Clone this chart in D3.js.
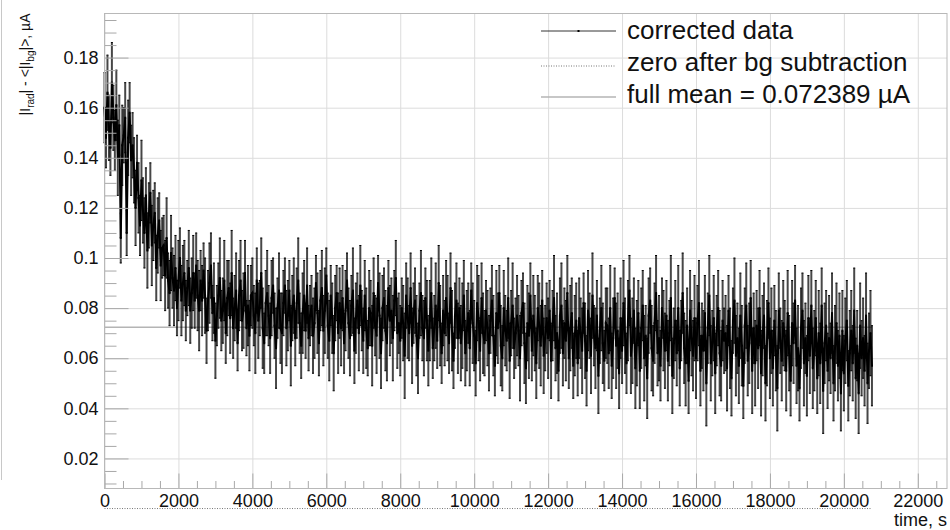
<!DOCTYPE html>
<html>
<head>
<meta charset="UTF-8">
<title>corrected data</title>
<script src="https://cdnjs.cloudflare.com/ajax/libs/d3/7.8.5/d3.min.js"></script>
<style>
body {
  margin: 0;
  background: #fff;
}
svg {
  display: block;
  font-family: "Liberation Sans", Arial, Helvetica, sans-serif;
}
.grid line {
  stroke: #dcdcdc;
  stroke-width: 1;
}
.grid path, .axis path {
  display: none;
}
.axis line {
  stroke: #a8a8a8;
}
.axis text {
  font-size: 18px;
  fill: #111;
  font-family: "Liberation Sans", Arial, Helvetica, sans-serif;
}
.frame {
  fill: none;
  stroke: #b8b8b8;
  stroke-width: 1;
}
.errbar {
  stroke: #000;
  stroke-opacity: 0.72;
  stroke-width: 2;
}
.cap {
  stroke: #000;
  stroke-width: 1;
}
.curve {
  fill: none;
  stroke: #000;
  stroke-width: 2;
}
.legend text {
  font-size: 26px;
  fill: #111;
}
</style>
</head>
<body>
<svg width="950" height="530"></svg>
<script>
// seconds between samples
var sampleStep = 40;

// corrected current, nA (one row = 20 samples = 800 s)
var current = [
  160,148,166,152,144,170,156,147,161,140,153,108,145,149,156,110,148,158,139,145,
  135,120,138,124,113,131,119,110,125,103,117,126,105,113,118,96,109,115,97,104,
  105,93,108,91,86,102,92,87,96,80,91,100,83,90,94,79,88,96,79,86,
  94,83,97,85,79,91,83,95,85,71,83,90,97,78,84,67,77,85,92,75,
  79,91,70,84,88,76,94,72,80,87,66,85,91,75,79,94,72,81,69,85,
  86,77,70,91,75,80,94,72,66,82,86,77,68,84,89,73,64,80,87,72,
  70,82,89,72,77,87,65,80,85,68,82,91,74,65,78,85,71,89,68,77,
  81,69,74,90,78,66,83,88,71,79,93,73,67,85,76,62,80,86,70,82,
  72,84,66,79,91,74,68,81,87,63,76,83,70,89,75,67,85,72,64,80,
  78,65,86,73,69,90,77,62,80,84,71,66,88,75,79,68,83,92,70,74,
  67,80,74,61,85,76,70,88,65,78,83,69,60,79,86,72,68,84,75,63,
  75,86,64,72,81,67,90,73,62,79,70,84,76,66,88,71,59,77,83,68,
  80,66,73,85,62,71,78,64,87,74,69,58,82,76,63,84,70,66,79,72,
  62,75,83,69,57,78,72,86,65,60,80,71,67,84,59,74,81,64,70,77,
  71,60,78,82,66,56,74,69,85,63,77,70,58,80,73,65,83,61,68,76,
  68,79,59,73,84,64,70,55,77,81,62,74,67,86,60,72,78,57,69,75,
  58,76,70,63,82,67,55,79,73,61,85,69,64,77,53,71,80,66,59,74,
  73,62,80,57,68,84,65,71,54,76,63,82,69,58,75,87,61,67,79,56,
  66,78,55,72,81,60,69,52,77,83,64,59,74,86,62,68,57,80,71,63,
  77,59,70,84,53,66,75,62,80,56,71,86,64,58,73,51,79,68,61,76,
  60,74,82,55,69,63,78,50,72,85,58,66,76,54,71,80,62,57,75,67,
  70,56,79,64,52,75,83,61,68,57,77,65,49,73,81,59,66,84,55,72,
  58,73,64,80,54,69,77,50,66,82,60,71,56,75,63,48,79,67,59,74,
  69,55,78,62,51,74,66,83,57,64,48,72,79,58,68,53,76,61,81,56,
  63,76,52,70,58,81,47,66,73,55,68,60,78,50,64,74,57,69,46,71,
  54,67,75,49,62,71,58,79,52,65,46,73,60,68,55,77,50,63,70,57
];

// error on each sample, nA
var currentErr = [
  14,12,15,13,11,16,13,12,14,15,12,10,16,11,14,9,15,12,14,13,
  13,15,11,14,12,16,13,14,11,15,13,12,16,14,12,13,15,11,14,12,
  12,14,16,11,13,15,12,14,13,11,16,12,14,15,13,12,11,15,13,14,
  15,11,13,14,16,12,14,11,15,13,12,16,13,11,14,15,12,13,16,12,
  13,16,12,15,11,14,17,12,13,15,11,14,16,12,15,13,11,16,14,12,
  14,12,16,13,15,11,14,16,12,13,17,12,14,15,11,13,16,12,15,14,
  16,13,11,15,14,12,16,13,15,11,14,17,12,13,16,14,11,15,13,12,
  12,15,14,11,16,13,12,15,14,17,11,13,16,12,14,15,13,11,16,14,
  15,13,12,16,11,14,15,12,17,13,14,11,15,16,12,13,14,16,11,15,
  13,16,14,12,15,11,17,14,13,12,16,15,11,14,13,17,12,15,14,12,
  14,12,15,17,13,16,11,14,15,12,13,16,14,11,17,13,15,12,16,14,
  16,14,12,13,17,11,15,16,12,14,13,15,17,12,14,16,11,13,15,14,
  12,15,17,14,13,16,12,15,11,16,14,13,15,17,12,14,16,13,12,15,
  15,13,14,16,12,17,14,11,16,13,15,14,12,16,15,13,17,12,14,16,
  14,17,13,12,16,14,15,17,13,12,16,15,14,13,17,16,12,15,13,14,
  16,12,15,14,17,13,16,12,15,17,13,14,16,15,12,17,14,13,16,15,
  13,16,14,17,12,15,14,16,13,15,17,12,16,14,15,13,17,16,12,14,
  15,14,17,13,16,12,17,15,14,16,13,17,15,12,16,14,15,17,13,16,
  17,13,15,16,14,17,12,16,15,13,17,14,16,15,13,17,14,12,16,15,
  14,16,13,17,15,14,16,13,17,15,12,16,14,17,15,13,16,15,14,17,
  16,15,17,14,13,16,15,17,14,16,15,13,17,16,14,15,17,14,16,13,
  15,17,14,16,15,13,17,16,14,15,17,16,13,15,17,14,16,15,17,14,
  17,14,16,15,17,16,13,15,17,14,16,17,15,14,16,17,15,13,16,17,
  14,16,17,15,14,17,16,14,15,17,13,16,15,17,14,16,17,15,14,16,
  16,15,14,17,16,15,17,16,14,15,17,14,16,15,17,16,14,17,15,16,
  15,17,16,14,17,16,15,17,16,14,16,17,15,16,14,17,16,15,17,16
];

var fullMean = 0.072389;
var xTicks = [0, 2000, 4000, 6000, 8000, 10000, 12000, 14000, 16000, 18000, 20000, 22000];
var yTicks = [0.02, 0.04, 0.06, 0.08, 0.1, 0.12, 0.14, 0.16, 0.18];
var legendLabels = ["corrected data", "zero after bg subtraction", "full mean = 0.072389 \u00b5A"];

function drawChart(){
  var svg = d3.select("svg"),
    fLeft = 104.5, fRight = 947, fTop = 13.5, fBottom = 488.5,
    xscale = d3.scaleLinear().domain([0, 22790]).range([fLeft, fRight]),
    yscale = d3.scaleLinear().domain([0.008, 0.1976]).range([fBottom, fTop]);

  var pts = current.map(function(v, i){
    return {t: i*sampleStep, v: v/1000, e: currentErr[i]/1000};
  });
  var tEnd = pts[pts.length-1].t;

  // cropped edge of the figure
  svg.append("line")
    .attr("x1", 1.5).attr("x2", 1.5).attr("y1", 0).attr("y2", 480)
    .attr("stroke", "#c8c8c8");

  // grid
  svg.append("g")
    .attr("class", "grid")
    .attr("transform", "translate(0,"+fBottom+")")
    .call(d3.axisBottom(xscale).tickValues(xTicks).tickSize(-(fBottom-fTop)).tickFormat(""));
  svg.append("g")
    .attr("class", "grid")
    .attr("transform", "translate("+fLeft+",0)")
    .call(d3.axisLeft(yscale).tickValues(yTicks).tickSize(-(fRight-fLeft)).tickFormat(""));

  // full mean and zero lines
  svg.append("line")
    .attr("x1", xscale(0)).attr("x2", xscale(tEnd))
    .attr("y1", yscale(fullMean)).attr("y2", yscale(fullMean))
    .attr("stroke", "#b4b4b4").attr("stroke-width", 1.6);
  svg.append("line")
    .attr("x1", xscale(0)).attr("x2", xscale(tEnd))
    .attr("y1", yscale(0)).attr("y2", yscale(0))
    .attr("stroke", "#777").attr("stroke-width", 1)
    .attr("stroke-dasharray", "1,1.5");

  // data
  var data = svg.append("g");
  data.selectAll(".errbar").data(pts).join("line")
    .attr("class", "errbar")
    .attr("x1", function(d){ return xscale(d.t); })
    .attr("x2", function(d){ return xscale(d.t); })
    .attr("y1", function(d){ return yscale(d.v - d.e); })
    .attr("y2", function(d){ return yscale(d.v + d.e); });
  data.selectAll(".caplo").data(pts).join("line")
    .attr("class", "cap caplo")
    .attr("x1", function(d){ return xscale(d.t) - 1; })
    .attr("x2", function(d){ return xscale(d.t) + 1; })
    .attr("y1", function(d){ return yscale(d.v - d.e); })
    .attr("y2", function(d){ return yscale(d.v - d.e); });
  data.selectAll(".caphi").data(pts).join("line")
    .attr("class", "cap caphi")
    .attr("x1", function(d){ return xscale(d.t) - 1; })
    .attr("x2", function(d){ return xscale(d.t) + 1; })
    .attr("y1", function(d){ return yscale(d.v + d.e); })
    .attr("y2", function(d){ return yscale(d.v + d.e); });
  data.append("path")
    .attr("class", "curve")
    .attr("d", d3.line()
      .x(function(d){ return xscale(d.t); })
      .y(function(d){ return yscale(d.v); })
      (pts));
  data.selectAll(".marker").data(pts).join("rect")
    .attr("class", "marker")
    .attr("x", function(d){ return xscale(d.t) - 1; })
    .attr("y", function(d){ return yscale(d.v) - 1; })
    .attr("width", 2).attr("height", 2)
    .attr("fill", "#000");

  // axes
  var xMinor = d3.range(500, 22790, 500).filter(function(t){ return t % 2000 !== 0; }),
    yMinor = d3.range(10, 198, 5).map(function(v){ return v/1000; })
      .filter(function(v){ return Math.round(v*1000) % 20 !== 0; });

  svg.append("g")
    .attr("class", "axis")
    .attr("transform", "translate(0,"+fBottom+")")
    .call(d3.axisBottom(xscale).tickValues(xMinor).tickSize(-7.5).tickFormat(""));
  svg.append("g")
    .attr("class", "axis")
    .attr("transform", "translate(0,"+fBottom+")")
    .call(d3.axisBottom(xscale).tickValues(xTicks).tickSize(-15).tickFormat(d3.format("d")))
    .selectAll("text").attr("y", 6).attr("dy", "0.72em");
  svg.append("g")
    .attr("class", "axis")
    .attr("transform", "translate("+fLeft+",0)")
    .call(d3.axisLeft(yscale).tickValues(yMinor).tickSize(-12).tickFormat(""));
  svg.append("g")
    .attr("class", "axis")
    .attr("transform", "translate("+fLeft+",0)")
    .call(d3.axisLeft(yscale).tickValues(yTicks).tickSize(-24).tickFormat(d3.format("~g")))
    .selectAll("text").attr("x", -6);

  svg.append("rect")
    .attr("class", "frame")
    .attr("x", fLeft).attr("y", fTop)
    .attr("width", fRight-fLeft).attr("height", fBottom-fTop);

  // axis titles
  svg.append("text")
    .attr("x", fRight).attr("y", 526)
    .attr("text-anchor", "end")
    .style("font-size", "18px")
    .attr("fill", "#111")
    .text("time, s");

  var ytitle = svg.append("text")
    .attr("transform", "translate(30,"+fTop+") rotate(-90)")
    .attr("text-anchor", "end")
    .style("font-size", "14px")
    .attr("fill", "#111");
  ytitle.append("tspan").text("|I");
  ytitle.append("tspan").attr("dy", 3.5).style("font-size", "10px").text("rad");
  ytitle.append("tspan").attr("dy", -3.5).text("| - <|I");
  ytitle.append("tspan").attr("dy", 3.5).style("font-size", "10px").text("bg");
  ytitle.append("tspan").attr("dy", -3.5).text("|>, \u00b5A");

  // legend
  var legend = svg.append("g").attr("class", "legend");
  var legendY = [31, 66, 97],
    legendBase = [39, 71, 103];
  legend.append("line")
    .attr("x1", 541).attr("x2", 616).attr("y1", legendY[0]).attr("y2", legendY[0])
    .attr("stroke", "#000").attr("stroke-width", 0.8);
  legend.append("rect")
    .attr("x", 577.5).attr("y", legendY[0]-1).attr("width", 2).attr("height", 2)
    .attr("fill", "#000");
  legend.append("line")
    .attr("x1", 541).attr("x2", 616).attr("y1", legendY[1]).attr("y2", legendY[1])
    .attr("stroke", "#777").attr("stroke-dasharray", "1,1.5");
  legend.append("line")
    .attr("x1", 541).attr("x2", 616).attr("y1", legendY[2]).attr("y2", legendY[2])
    .attr("stroke", "#b4b4b4").attr("stroke-width", 1.6);
  legend.selectAll("text").data(legendLabels).join("text")
    .attr("x", 627)
    .attr("y", function(d, i){ return legendBase[i]; })
    .text(function(d){ return d; });
}
drawChart();
</script>
</body>
</html>
